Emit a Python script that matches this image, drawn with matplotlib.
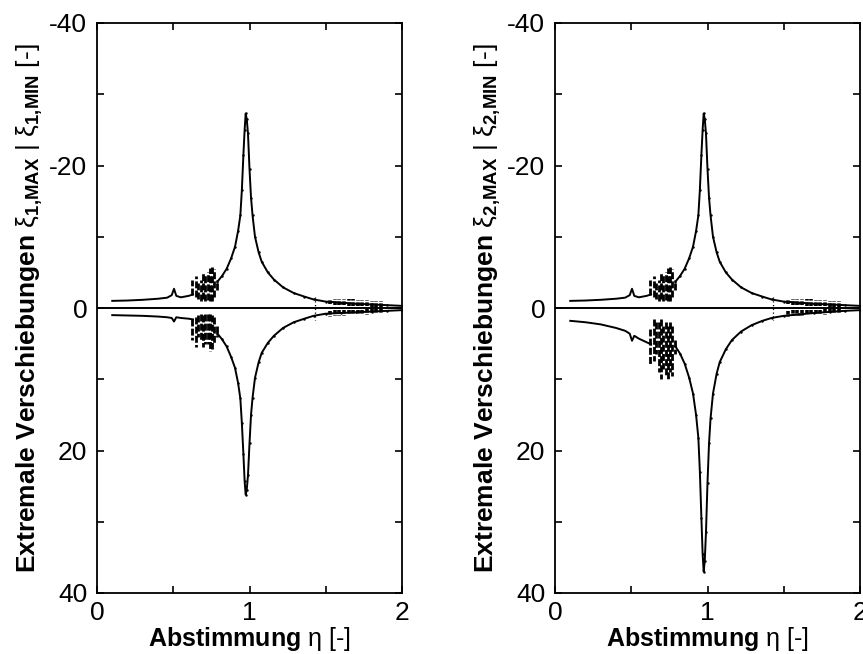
import numpy as np
import matplotlib.pyplot as plt

plt.rcParams['font.family'] = ['Liberation Sans', 'DejaVu Sans']
plt.rcParams['mathtext.fontset'] = 'custom'
plt.rcParams['mathtext.rm'] = 'Liberation Sans'
plt.rcParams['mathtext.bf'] = 'Liberation Sans:bold'
plt.rcParams['mathtext.it'] = 'Liberation Sans:italic'

# --- data (eta = tuning ratio, xi = displacement) ---
eta_low = [0.10, 0.20, 0.30, 0.40, 0.46, 0.49, 0.505, 0.52, 0.55, 0.60, 0.63]
max1_low = [-1.0, -1.05, -1.15, -1.3, -1.45, -1.8, -2.7, -1.7, -1.5, -1.7, -1.9]
min1_low = [1.0, 1.05, 1.1, 1.2, 1.3, 1.4, 1.9, 1.3, 1.4, 1.5, 1.6]
max2_low = [-1.0, -1.05, -1.15, -1.3, -1.45, -1.8, -2.7, -1.7, -1.5, -1.7, -1.9]
min2_low = [1.8, 2.0, 2.3, 2.8, 3.2, 3.6, 4.6, 3.9, 4.3, 4.8, 5.1]

eta_res = [0.79, 0.82, 0.85, 0.88, 0.905, 0.925, 0.94, 0.95, 0.96, 0.968, 0.975,
           0.982, 0.99, 1.0, 1.01, 1.02, 1.036, 1.06, 1.08, 1.12, 1.16, 1.22,
           1.29, 1.36, 1.42, 1.50, 1.60, 1.70, 1.80, 1.90, 2.00]
max1_res = [-3.7, -4.5, -5.5, -7.0, -8.6, -10.8, -13.0, -16.6, -21.5, -25.0, -27.3,
            -26.5, -24.5, -19.5, -15.5, -13.0, -10.0, -7.8, -6.5, -5.0, -4.0, -2.9,
            -2.1, -1.6, -1.2, -0.9, -0.75, -0.6, -0.5, -0.4, -0.3]
min1_res = [3.6, 4.4, 5.4, 6.9, 8.4, 10.5, 12.7, 16.2, 20.5, 24.3, 26.2,
            25.5, 23.5, 19.0, 15.0, 12.6, 9.8, 7.6, 6.3, 4.9, 3.9, 2.8,
            2.0, 1.5, 1.1, 0.8, 0.7, 0.6, 0.5, 0.4, 0.3]
max2_res = [-3.7, -4.5, -5.5, -7.0, -8.6, -10.8, -13.0, -16.6, -21.5, -25.0, -27.3,
            -26.5, -24.5, -19.5, -15.5, -13.0, -10.0, -7.8, -6.5, -5.0, -4.0, -2.9,
            -2.1, -1.6, -1.2, -0.9, -0.75, -0.6, -0.5, -0.4, -0.3]
min2_res = [5.4, 6.4, 7.8, 9.8, 12.0, 15.0, 18.2, 23.0, 29.5, 34.5, 37.0,
            35.5, 31.5, 24.5, 19.0, 15.5, 12.0, 9.2, 7.6, 5.8, 4.5, 3.3,
            2.4, 1.8, 1.4, 1.1, 0.9, 0.7, 0.55, 0.4, 0.3]

# chaotic clusters around eta 0.62-0.8 (vertical spread per eta)
clus_eta = [0.62, 0.65, 0.665, 0.68, 0.695, 0.71, 0.725, 0.74, 0.755, 0.77, 0.785]
clus1_max_a = [-1.8, -1.5, -1.2, -1.0, -1.2, -1.0, -1.1, -1.0, -1.0, -1.5, -2.5]
clus1_max_b = [-3.9, -4.5, -3.5, -4.0, -5.0, -4.6, -5.0, -5.6, -5.8, -5.5, -4.0]
clus1_min_a = [1.5, 1.2, 1.0, 0.8, 1.0, 0.9, 0.8, 0.8, 1.0, 1.2, 2.5]
clus1_min_b = [4.5, 5.5, 4.0, 4.5, 5.5, 5.0, 5.0, 6.0, 5.8, 5.0, 4.0]
clus2_max_a = [-1.8, -1.5, -1.2, -1.0, -1.2, -1.0, -1.1, -1.0, -1.0, -1.5, -2.5]
clus2_max_b = [-3.9, -4.5, -3.5, -4.0, -5.0, -4.6, -5.0, -5.6, -5.8, -5.5, -4.0]
clus2_min_a = [3.0, 1.5, 2.0, 2.0, 1.5, 2.5, 2.0, 2.5, 2.0, 2.5, 4.5]
clus2_min_b = [8.0, 7.5, 6.5, 9.0, 10.0, 8.5, 9.5, 10.0, 9.0, 9.5, 6.5]

# scattered band for eta 1.5-1.9
tail_eta = [1.53, 1.56, 1.59, 1.62, 1.65, 1.68, 1.71, 1.74, 1.77, 1.80, 1.83, 1.86]
tail_max_a = [-0.5, -0.4, -0.4, -0.4, -0.3, -0.3, -0.3, -0.3, -0.3, -0.2, -0.2, -0.2]
tail_max_b = [-1.3, -1.3, -1.2, -1.2, -1.2, -1.2, -1.1, -1.1, -1.1, -1.0, -1.0, -1.0]
tail_min_a = [0.4, 0.3, 0.3, 0.3, 0.3, 0.3, 0.3, 0.3, 0.2, 0.2, 0.2, 0.2]
tail_min_b = [1.2, 1.1, 1.1, 1.1, 1.0, 1.0, 1.0, 1.0, 1.0, 0.9, 0.9, 0.9]

# isolated dotted strip near eta 1.43
strip_eta = [1.43]
strip_lo = [-1.6]
strip_hi = [1.7]

panels = [
    (1, max1_low, min1_low, max1_res, min1_res,
     clus1_max_a, clus1_max_b, clus1_min_a, clus1_min_b),
    (2, max2_low, min2_low, max2_res, min2_res,
     clus2_max_a, clus2_max_b, clus2_min_a, clus2_min_b),
]

fig = plt.figure(figsize=(8.63, 6.54), dpi=100)
lefts = [97 / 863, 555 / 863]

for left, (k, mx_low, mn_low, mx_res, mn_res, cma, cmb, cna, cnb) in zip(lefts, panels):
    ax = fig.add_axes([left, 61 / 654, 305 / 863, 570 / 654])

    ax.axhline(0, color='black', lw=1.4)
    for yy in (mx_low, mn_low):
        ax.plot(eta_low, yy, color='black', lw=1.4)
    for yy in (mx_res, mn_res):
        ax.plot(eta_res, yy, color='black', lw=1.4, marker='.', ms=1.5)

    dash = (0, (2.5, 0.8))
    ax.vlines(clus_eta, cma, cmb, color='black', lw=2.0, linestyles=dash)
    ax.vlines(clus_eta, cna, cnb, color='black', lw=2.0, linestyles=dash)
    ax.vlines(tail_eta, tail_max_a, tail_max_b, color='black', lw=2.6, linestyles=(0, (1, 0.5)))
    ax.vlines(tail_eta, tail_min_a, tail_min_b, color='black', lw=2.6, linestyles=(0, (1, 0.5)))
    ax.vlines(strip_eta, strip_lo, strip_hi, color='black', lw=0.9, linestyles=(0, (1, 2)))

    ax.set_xlim(0, 2)
    ax.set_ylim(40, -40)
    ax.set_xticks([0, 0.5, 1, 1.5, 2])
    ax.set_xticklabels(['0', '', '1', '', '2'])
    ax.set_yticks(np.arange(-40, 41, 10))
    ax.set_yticklabels(['-40', '', '-20', '', '0', '', '20', '', '40'])
    ax.tick_params(direction='in', length=5, width=1.2, top=True, right=True,
                   labelsize=19)
    ax.tick_params(axis='x', pad=6)
    ax.tick_params(axis='y', pad=7)
    for s in ax.spines.values():
        s.set_linewidth(1.3)

    ax.set_xlabel(r'$\mathbf{Abstimmung}\ \mathrm{\eta}$ [-]', fontsize=18, labelpad=0)
    ax.set_ylabel(r'$\mathbf{Extremale\ Verschiebungen}\ \mathrm{\xi}_{\mathbf{%d{,}MAX}}'
                  r'\ \mathrm{|}\ \mathrm{\xi}_{\mathbf{%d{,}MIN}}$ [-]' % (k, k),
                  fontsize=19, labelpad=3)

fig.savefig('out.png', dpi=100)
